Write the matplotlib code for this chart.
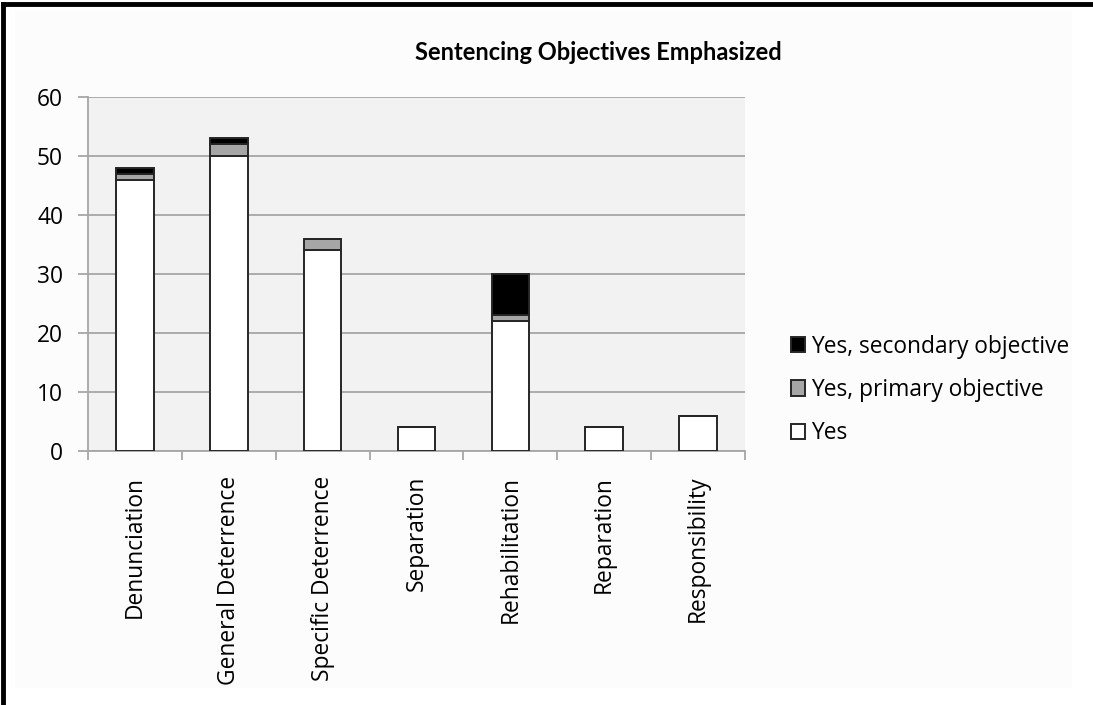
import matplotlib.pyplot as plt
import numpy as np

categories = ["Denunciation", "General Deterrence", "Specific Deterrence",
              "Separation", "Rehabilitation", "Reparation", "Responsibility"]
yes = [46, 50, 34, 4, 22, 4, 6]
yes_primary = [1, 2, 2, 0, 1, 0, 0]
yes_secondary = [1, 1, 0, 0, 7, 0, 0]

plt.rcParams["font.family"] = ["Open Sans", "DejaVu Sans"]

fig = plt.figure(figsize=(10.93, 7.05), dpi=100)
fig.patch.set_facecolor("white")

# outer chart frame: light panel with a heavy black edge on top and left
fig.add_artist(plt.Rectangle((15 / 1093, 1 - 688 / 705), 1057 / 1093, 678 / 705,
                             transform=fig.transFigure, facecolor="#fcfcfc",
                             edgecolor="none", zorder=0))
fig.add_artist(plt.Line2D([3 / 1093, 3 / 1093], [0, 1 - 4 / 705],
                          transform=fig.transFigure, color="black", linewidth=3.5))
fig.add_artist(plt.Line2D([3 / 1093, 1], [1 - 4 / 705, 1 - 4 / 705],
                          transform=fig.transFigure, color="black", linewidth=3.5))

ax = fig.add_axes([88 / 1093, 1 - 451 / 705, 657 / 1093, 354 / 705])
ax.set_facecolor("#f2f2f2")

x = np.arange(len(categories))
width = 0.4
edge = dict(edgecolor="#262626", linewidth=1.4, zorder=3)
b1 = ax.bar(x, yes, width, color="white", label="Yes", **edge)
b2 = ax.bar(x, yes_primary, width, bottom=yes, color="#a6a6a6",
            label="Yes, primary objective", **edge)
bottom2 = np.array(yes) + np.array(yes_primary)
b3 = ax.bar(x, yes_secondary, width, bottom=bottom2, color="black",
            label="Yes, secondary objective", **edge)

ax.set_xlim(-0.5, len(categories) - 0.5)
ax.set_ylim(0, 60)
ax.set_yticks(range(0, 61, 10))
ax.yaxis.grid(True, color="#a6a6a6", linewidth=1.3, zorder=0)
ax.set_axisbelow(True)

ax.set_xticks(x)
ax.set_xticklabels(categories, rotation=90, fontsize=16.4)
ax.set_xticks(np.arange(-0.5, len(categories)), minor=True)
ax.tick_params(axis="x", which="major", length=0, pad=18)
ax.tick_params(axis="x", which="minor", length=6.5, color="#a6a6a6", width=1.3)
ax.tick_params(axis="y", length=7, color="#a6a6a6", width=1.3, labelsize=16.4, pad=11)

for side in ["top", "right"]:
    ax.spines[side].set_visible(False)
for side in ["left", "bottom"]:
    ax.spines[side].set_color("#a6a6a6")
    ax.spines[side].set_linewidth(1.3)

ax.set_title("Sentencing Objectives Emphasized", fontsize=17, fontweight="bold",
             family=["Lato", "DejaVu Sans"], x=(598 - 88) / 657, y=1.08)

handles = [b3, b2, b1]
fig.legend(handles, [h.get_label() for h in handles], loc="center left",
           bbox_to_anchor=(770 / 1093, 1 - 390 / 705), frameon=False,
           fontsize=16.4, handlelength=0.65, handleheight=0.65, handletextpad=0.25,
           labelspacing=0.85)

fig.savefig("out.png", dpi=100)
